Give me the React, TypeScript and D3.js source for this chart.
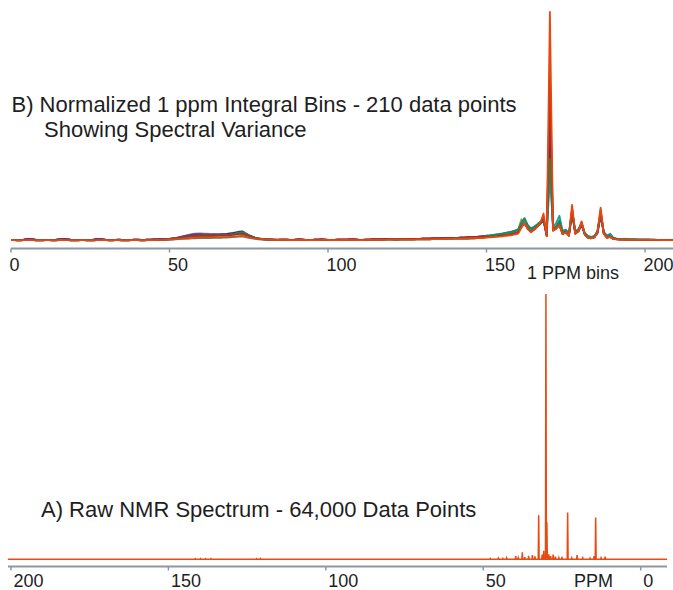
import React from "react";
import * as d3 from "d3";

// ---------- Top chart: 1 ppm integral bins (210 bins) ----------
const binTicks = [0, 50, 100, 150, 200];
const ppmTicks = [200, 150, 100, 50, 0];

// bins 0-49
const baseLowA = [
  0.4, 0.4, 0.3, 0.3, 0.4, 0.4, 0.5, 0.4, 0.3, 0.3,
  0.3, 0.4, 0.4, 0.3, 0.3, 0.4, 0.5, 0.4, 0.4, 0.3,
  0.3, 0.3, 0.4, 0.4, 0.3, 0.3, 0.3, 0.4, 0.4, 0.5,
  0.4, 0.3, 0.3, 0.4, 0.4, 0.3, 0.3, 0.3, 0.4, 0.4,
  0.4, 0.3, 0.3, 0.4, 0.4, 0.4, 0.5, 0.5, 0.5, 0.6,
];
const baseLowB = [
  0.5, 0.5, 0.4, 0.5, 0.6, 0.8, 0.9, 0.7, 0.5, 0.4,
  0.4, 0.5, 0.5, 0.4, 0.5, 0.7, 0.8, 0.9, 0.7, 0.5,
  0.4, 0.4, 0.5, 0.5, 0.4, 0.5, 0.6, 0.8, 0.9, 0.7,
  0.5, 0.4, 0.5, 0.5, 0.6, 0.5, 0.4, 0.5, 0.5, 0.6,
  0.6, 0.5, 0.5, 0.6, 0.6, 0.7, 0.7, 0.8, 0.8, 0.9,
];

// bins 50-84
const humpOrange = [
  0.6, 0.7, 0.8, 0.9, 1.0, 1.1, 1.2, 1.3, 1.4, 1.4,
  1.5, 1.5, 1.5, 1.5, 1.6, 1.6, 1.6, 1.7, 1.7, 1.8,
  1.9, 2.0, 2.1, 2.2, 1.9, 1.6, 1.3, 1.1, 0.9, 0.8,
  0.7, 0.6, 0.6, 0.5, 0.5,
];
const humpGreen = [
  0.9, 1.0, 1.2, 1.4, 1.6, 1.8, 2.0, 2.2, 2.3, 2.4,
  2.4, 2.4, 2.5, 2.5, 2.5, 2.5, 2.6, 2.6, 2.7, 2.8,
  3.0, 3.3, 3.7, 3.9, 3.2, 2.5, 1.9, 1.4, 1.1, 0.9,
  0.8, 0.7, 0.7, 0.6, 0.6,
];
const humpGray = [
  1.0, 1.2, 1.4, 1.7, 2.0, 2.3, 2.7, 3.0, 3.2, 3.3,
  3.3, 3.2, 3.2, 3.1, 3.1, 3.0, 3.0, 2.9, 2.9, 2.9,
  2.9, 3.0, 3.2, 3.3, 2.8, 2.3, 1.8, 1.4, 1.1, 0.9,
  0.8, 0.7, 0.7, 0.6, 0.6,
];
const humpPurple = [
  0.9, 1.1, 1.3, 1.6, 1.9, 2.2, 2.5, 2.8, 3.0, 3.0,
  3.0, 2.9, 2.9, 2.8, 2.8, 2.8, 2.8, 2.8, 2.8, 2.9,
  3.0, 3.1, 3.3, 3.5, 2.9, 2.3, 1.8, 1.3, 1.0, 0.8,
  0.7, 0.6, 0.6, 0.6, 0.5,
];
const humpNavy = [
  0.8, 1.0, 1.2, 1.4, 1.7, 2.0, 2.3, 2.5, 2.7, 2.7,
  2.7, 2.7, 2.7, 2.7, 2.8, 2.8, 2.9, 3.0, 3.1, 3.3,
  3.5, 3.8, 4.1, 4.2, 3.4, 2.6, 2.0, 1.5, 1.1, 0.9,
  0.8, 0.7, 0.6, 0.6, 0.5,
];
const humpTeal = [
  0.5, 0.6, 0.7, 0.8, 0.9, 1.0, 1.1, 1.2, 1.2, 1.3,
  1.3, 1.3, 1.3, 1.3, 1.4, 1.4, 1.4, 1.5, 1.5, 1.6,
  1.7, 1.8, 1.9, 2.0, 1.7, 1.4, 1.1, 0.9, 0.7, 0.6,
  0.5, 0.5, 0.5, 0.4, 0.4,
];
const humpOlive = [
  0.8, 0.9, 1.1, 1.3, 1.5, 1.7, 1.9, 2.1, 2.2, 2.3,
  2.3, 2.3, 2.3, 2.3, 2.3, 2.4, 2.4, 2.4, 2.5, 2.6,
  2.7, 2.9, 3.1, 3.2, 2.7, 2.2, 1.7, 1.3, 1.0, 0.8,
  0.7, 0.6, 0.6, 0.5, 0.5,
];

// bins 85-149
const midA = [
  0.5, 0.5, 0.5, 0.4, 0.4, 0.4, 0.5, 0.5, 0.5, 0.4,
  0.4, 0.4, 0.4, 0.5, 0.5, 0.5, 0.4, 0.4, 0.4, 0.4,
  0.5, 0.5, 0.5, 0.5, 0.4, 0.4, 0.4, 0.5, 0.5, 0.5,
  0.5, 0.5, 0.5, 0.5, 0.6, 0.6, 0.6, 0.6, 0.6, 0.6,
  0.6, 0.6, 0.6, 0.7, 0.7, 0.7, 0.7, 0.7, 0.8, 0.8,
  0.8, 0.8, 0.9, 0.9, 0.9, 1.0, 1.0, 1.0, 1.1, 1.1,
  1.2, 1.2, 1.3, 1.3, 1.4,
];
const midB = [
  0.6, 0.6, 0.6, 0.5, 0.5, 0.6, 0.7, 0.6, 0.5, 0.5,
  0.5, 0.6, 0.6, 0.7, 0.6, 0.5, 0.5, 0.5, 0.6, 0.6,
  0.6, 0.6, 0.7, 0.7, 0.6, 0.5, 0.5, 0.6, 0.6, 0.7,
  0.7, 0.7, 0.7, 0.8, 0.8, 0.8, 0.7, 0.7, 0.8, 0.8,
  0.8, 0.9, 0.9, 0.9, 0.9, 1.0, 1.0, 1.0, 1.1, 1.1,
  1.1, 1.2, 1.2, 1.3, 1.3, 1.4, 1.4, 1.5, 1.5, 1.6,
  1.7, 1.7, 1.8, 1.9, 2.0,
];

// bins 150-209
const peaksOrange = [
  1.5, 1.6, 1.7, 1.8, 1.9, 2.0, 2.2, 2.4, 2.6, 2.9,
  3.2, 5.8, 8.0, 5.2, 3.8, 4.8, 6.2, 8.0, 12.0, 2.0,
  100, 4.5, 5.5, 7.0, 3.0, 3.8, 2.2, 15.8, 3.2, 4.2,
  8.6, 2.8, 1.5, 1.2, 1.6, 4.0, 14.6, 3.2, 1.4, 1.8,
  0.9, 0.7, 0.6, 0.6, 0.6, 0.5, 0.5, 0.5, 0.5, 0.5,
  0.5, 0.5, 0.5, 0.5, 0.5, 0.4, 0.4, 0.4, 0.4, 0.4,
];
const peaksGreen = [
  2.3, 2.4, 2.6, 2.8, 3.0, 3.2, 3.5, 3.8, 4.1, 4.5,
  5.0, 8.0, 10.0, 7.0, 5.5, 6.2, 7.2, 8.4, 9.8, 3.0,
  36, 5.5, 6.5, 9.0, 4.0, 4.6, 3.0, 13.5, 4.0, 5.0,
  8.0, 3.5, 2.0, 1.6, 2.0, 4.2, 12.5, 3.8, 2.0, 2.6,
  1.3, 1.0, 0.9, 0.8, 0.8, 0.7, 0.7, 0.7, 0.6, 0.6,
  0.6, 0.6, 0.6, 0.6, 0.5, 0.5, 0.5, 0.5, 0.5, 0.5,
];
const peaksTeal = [
  1.8, 1.9, 2.1, 2.3, 2.5, 2.7, 3.0, 3.3, 3.6, 4.0,
  4.5, 7.5, 9.5, 6.5, 5.0, 5.8, 7.0, 8.2, 9.5, 2.8,
  28, 6.0, 8.0, 11.0, 4.5, 5.0, 3.5, 13.0, 4.2, 5.2,
  7.8, 3.4, 2.2, 1.8, 2.2, 4.5, 12.0, 4.0, 2.4, 3.2,
  1.4, 1.0, 0.9, 0.8, 0.8, 0.7, 0.7, 0.7, 0.6, 0.6,
  0.6, 0.6, 0.6, 0.6, 0.5, 0.5, 0.5, 0.5, 0.5, 0.5,
];
const peaksOlive = [
  2.2, 2.3, 2.5, 2.7, 2.9, 3.1, 3.4, 3.7, 4.0, 4.4,
  5.0, 9.5, 8.5, 6.5, 5.2, 6.0, 7.0, 8.0, 9.0, 2.6,
  48, 5.0, 6.0, 8.0, 3.8, 4.3, 2.8, 13.0, 3.8, 4.8,
  7.8, 3.2, 1.8, 1.5, 1.8, 3.8, 12.0, 3.6, 1.8, 2.2,
  1.1, 0.9, 0.8, 0.7, 0.7, 0.6, 0.6, 0.6, 0.6, 0.6,
  0.6, 0.6, 0.5, 0.5, 0.5, 0.5, 0.5, 0.5, 0.5, 0.5,
];
const peaksPurple = [
  2.0, 2.1, 2.3, 2.5, 2.7, 2.9, 3.2, 3.5, 3.8, 4.2,
  4.6, 7.0, 8.0, 5.8, 4.5, 5.4, 6.6, 7.8, 9.0, 2.4,
  61, 4.8, 5.8, 7.5, 3.4, 4.0, 2.5, 12.5, 3.4, 4.4,
  7.2, 3.0, 1.6, 1.3, 1.7, 3.6, 11.5, 3.4, 1.6, 2.0,
  1.0, 0.8, 0.7, 0.7, 0.7, 0.6, 0.6, 0.6, 0.6, 0.6,
  0.6, 0.6, 0.5, 0.5, 0.5, 0.5, 0.5, 0.5, 0.5, 0.5,
];
const peaksNavy = [
  1.9, 2.0, 2.2, 2.4, 2.6, 2.8, 3.1, 3.4, 3.7, 4.0,
  4.4, 6.8, 7.8, 5.6, 4.3, 5.2, 6.4, 7.6, 8.8, 2.2,
  45, 4.6, 5.6, 7.2, 3.2, 4.6, 2.4, 12.0, 3.2, 4.2,
  7.0, 2.8, 1.5, 1.2, 1.6, 3.4, 11.0, 3.2, 1.5, 1.9,
  0.9, 0.8, 0.7, 0.7, 0.6, 0.6, 0.6, 0.6, 0.5, 0.5,
  0.5, 0.5, 0.5, 0.5, 0.5, 0.5, 0.5, 0.5, 0.5, 0.5,
];
const peaksGray = [
  2.4, 2.5, 2.7, 2.9, 3.1, 3.3, 3.6, 3.9, 4.2, 4.6,
  5.2, 7.8, 9.0, 6.6, 5.2, 6.0, 7.2, 8.4, 9.6, 2.8,
  55, 5.2, 6.2, 8.4, 3.8, 4.4, 2.8, 13.5, 3.8, 4.6,
  7.6, 3.2, 1.8, 1.5, 1.8, 3.8, 12.2, 3.6, 1.8, 2.4,
  1.2, 0.9, 0.8, 0.7, 0.7, 0.7, 0.6, 0.6, 0.6, 0.6,
  0.6, 0.6, 0.6, 0.5, 0.5, 0.5, 0.5, 0.5, 0.5, 0.5,
];
const peaksCrimson = [
  1.7, 1.8, 1.9, 2.0, 2.2, 2.4, 2.6, 2.8, 3.1, 3.4,
  3.8, 6.2, 7.6, 5.4, 4.0, 5.0, 6.2, 7.6, 10.5, 2.2,
  72, 4.6, 5.4, 6.8, 3.0, 3.8, 2.3, 14.0, 3.2, 4.2,
  8.0, 2.8, 1.5, 1.2, 1.6, 3.8, 13.5, 3.2, 1.5, 1.8,
  0.9, 0.7, 0.6, 0.6, 0.6, 0.5, 0.5, 0.5, 0.5, 0.5,
  0.5, 0.5, 0.5, 0.5, 0.5, 0.4, 0.4, 0.4, 0.4, 0.4,
];

const binSeries = [
  { name: "gray", color: "#8f8f8f", values: [...baseLowB, ...humpGray, ...midB, ...peaksGray] },
  { name: "olive", color: "#9aa23c", values: [...baseLowB, ...humpOlive, ...midB, ...peaksOlive] },
  { name: "navy", color: "#2e3470", values: [...baseLowB, ...humpNavy, ...midB, ...peaksNavy] },
  { name: "purple", color: "#6b2d8e", values: [...baseLowB, ...humpPurple, ...midB, ...peaksPurple] },
  { name: "teal", color: "#1f9aa6", values: [...baseLowA, ...humpTeal, ...midA, ...peaksTeal] },
  { name: "green", color: "#1d8a58", values: [...baseLowA, ...humpGreen, ...midA, ...peaksGreen] },
  { name: "crimson", color: "#a8321c", values: [...baseLowA, ...humpOlive, ...midB, ...peaksCrimson] },
  { name: "orange", color: "#e8470e", values: [...baseLowA, ...humpOrange, ...midA, ...peaksOrange] },
];

// ---------- Bottom chart: raw spectrum peaks [ppm, intensity] ----------
const rawPeaks: [number, number][] = [
  [141.5, 0.2], [139.8, 0.25], [138.2, 0.2], [136.5, 0.25],
  [122.0, 0.2], [120.8, 0.3],
  [47.8, 0.3], [45.2, 0.4], [43.8, 0.3], [42.6, 0.5],
  [39.7, 1.2], [38.9, 0.6], [37.6, 2.6], [36.8, 0.8],
  [35.6, 1.3], [34.4, 1.6], [33.6, 1.1], [32.4, 16.6],
  [31.3, 1.8], [30.8, 3.2], [30.1, 100], [29.8, 14.0],
  [29.2, 1.9], [28.6, 1.2], [27.8, 1.8], [27.1, 1.0],
  [26.0, 0.6], [25.0, 0.9], [23.2, 17.6], [21.9, 0.5],
  [20.2, 1.6], [18.4, 0.5], [16.1, 0.4], [14.8, 1.2],
  [14.3, 15.8], [12.6, 0.5], [11.3, 1.0],
];
const rawRange = [201, -8.4];

const FONT = "'Liberation Sans', Arial, Helvetica, sans-serif";
const AXIS_COLOR = "#8e97a1";
const TEXT_COLOR = "#1e1e1e";

export default function App() {
  const W = 673;
  const H = 590;

  const xBin = d3.scaleLinear().domain([0, 200]).range([11, 645]);
  const yBin = d3.scaleLinear().domain([0, 100]).range([241, 12]);
  const xPpm = d3.scaleLinear().domain([200, 0]).range([11, 640.7]);
  const yPpm = d3.scaleLinear().domain([0, 100]).range([559.3, 294]);

  const binLine = d3
    .line<number>()
    .x((_, i) => xBin(i))
    .y((d) => yBin(d));

  // build raw spectrum path points from the peak table
  const hw = 0.14;
  const sorted = [...rawPeaks].sort((a, b) => b[0] - a[0]);
  const rawPts: [number, number][] = [[rawRange[0], 0]];
  sorted.forEach(([p, h]) => {
    rawPts.push([p + hw, 0]);
    rawPts.push([p, h]);
    rawPts.push([p - hw, 0]);
  });
  rawPts.push([rawRange[1], 0]);
  const rawLine = d3
    .line<[number, number]>()
    .x((d) => xPpm(d[0]))
    .y((d) => yPpm(d[1]));

  const topAxisY = 248.5;
  const botAxisY = 566.5;

  return (
    <svg
      width={W}
      height={H}
      viewBox={`0 0 ${W} ${H}`}
      style={{ position: "absolute", left: 0, top: 0, display: "block", background: "#fff" }}
      fontFamily={FONT}
    >
      <rect x={0} y={0} width={W} height={H} fill="#fff" />

      {/* Top chart lines */}
      <g fill="none" strokeWidth={1.8} strokeLinejoin="round">
        {binSeries.map((s) => (
          <path key={s.name} d={binLine(s.values) || ""} stroke={s.color} />
        ))}
      </g>

      {/* Top axis */}
      <line x1={11} x2={673} y1={topAxisY} y2={topAxisY} stroke={AXIS_COLOR} strokeWidth={2} />
      {binTicks.map((t) => (
        <g key={"bt" + t}>
          <line x1={xBin(t)} x2={xBin(t)} y1={topAxisY} y2={topAxisY + 4} stroke={AXIS_COLOR} strokeWidth={1.5} />
          <text x={xBin(t) - 1.5} y={271} fontSize={18} fill={TEXT_COLOR}>
            {t}
          </text>
        </g>
      ))}
      <text x={527} y={279} fontSize={18} fill={TEXT_COLOR}>
        1 PPM bins
      </text>

      {/* Top titles */}
      <text x={11.5} y={112} fontSize={22} fill={TEXT_COLOR}>
        B) Normalized 1 ppm Integral Bins - 210 data points
      </text>
      <text x={44} y={136.5} fontSize={22} fill={TEXT_COLOR}>
        Showing Spectral Variance
      </text>

      {/* Bottom chart */}
      <path d={rawLine(rawPts) || ""} fill="none" stroke="#e84a12" strokeWidth={1.5} strokeLinejoin="miter" />

      <line x1={8} x2={667} y1={botAxisY} y2={botAxisY} stroke={AXIS_COLOR} strokeWidth={2} />
      {ppmTicks.map((t) => (
        <g key={"pt" + t}>
          <line x1={xPpm(t)} x2={xPpm(t)} y1={botAxisY} y2={botAxisY + 4} stroke={AXIS_COLOR} strokeWidth={1.5} />
          <text x={xPpm(t) + 2.5} y={587} fontSize={18} fill={TEXT_COLOR}>
            {t}
          </text>
        </g>
      ))}
      <text x={574} y={587} fontSize={18} fill={TEXT_COLOR}>
        PPM
      </text>

      <text x={41} y={517} fontSize={22} fill={TEXT_COLOR}>
        A) Raw NMR Spectrum - 64,000 Data Points
      </text>
    </svg>
  );
}
